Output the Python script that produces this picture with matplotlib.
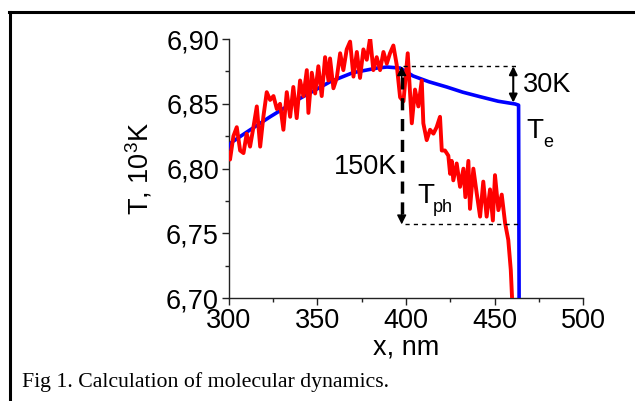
import matplotlib
matplotlib.use("Agg")
import matplotlib.pyplot as plt
from matplotlib.ticker import MultipleLocator, FuncFormatter
from matplotlib.lines import Line2D

plt.rcParams['font.family'] = ['Liberation Sans', 'DejaVu Sans']
plt.rcParams['mathtext.default'] = 'regular'

# Electron temperature T_e (blue)
te_x = [300.0, 301.4, 310.0, 323.4, 340.0, 357.2, 370.0, 383.7, 389.3, 396.7,
        404.0, 413.0, 423.0, 432.0, 441.8, 452.0, 461.5, 463.5, 464.0]
te_y = [6.816, 6.820, 6.828, 6.840, 6.854, 6.867, 6.874, 6.8776, 6.8784, 6.8776,
        6.8715, 6.867, 6.863, 6.859, 6.8555, 6.852, 6.8499, 6.849, 6.60]

# Phonon temperature T_ph (red)
tph_x = [300.0, 300.8, 302.7, 304.6, 306.5, 308.4, 310.2, 312.1, 314.0, 315.9,
         317.8, 319.6, 321.5, 323.4, 325.3, 327.2, 329.0, 330.9, 332.8, 334.7,
         336.5, 338.4, 340.3, 342.2, 344.1, 345.0, 346.9, 348.8, 350.6, 352.5,
         354.4, 356.3, 357.2, 359.1, 361.0, 362.9, 364.7, 366.6, 368.5, 370.4,
         372.3, 374.1, 376.0, 377.9, 379.8, 381.6, 383.5, 385.4, 387.3, 389.2,
         391.0, 392.9, 394.8, 396.7, 398.6, 401.0, 403.3, 405.1, 407.0, 408.9,
         409.8, 411.7, 413.6, 415.5, 417.3, 419.2, 420.2, 422.0, 423.9, 424.9,
         425.8, 426.7, 428.6, 430.5, 432.4, 433.5, 435.2, 436.1, 438.0, 439.9,
         441.8, 443.6, 445.5, 447.4, 449.0, 450.2, 452.1, 454.0, 455.9, 457.7,
         459.1, 460.0, 460.8]
tph_y = [6.812, 6.807, 6.825, 6.832, 6.814, 6.812, 6.827, 6.817, 6.832, 6.848,
         6.817, 6.840, 6.859, 6.853, 6.856, 6.846, 6.850, 6.830, 6.859, 6.840,
         6.863, 6.839, 6.868, 6.856, 6.876, 6.843, 6.874, 6.858, 6.879, 6.856,
         6.886, 6.868, 6.885, 6.862, 6.870, 6.889, 6.876, 6.892, 6.898, 6.871,
         6.890, 6.870, 6.892, 6.884, 6.901, 6.876, 6.886, 6.876, 6.890, 6.881,
         6.889, 6.895, 6.880, 6.855, 6.852, 6.889, 6.835, 6.861, 6.848, 6.868,
         6.835, 6.822, 6.830, 6.827, 6.832, 6.840, 6.814, 6.814, 6.810, 6.796,
         6.806, 6.791, 6.804, 6.786, 6.800, 6.778, 6.806, 6.769, 6.800, 6.781,
         6.763, 6.790, 6.763, 6.784, 6.760, 6.795, 6.768, 6.780, 6.758, 6.745,
         6.722, 6.695, 6.60]

x_ticks = [300, 350, 400, 450, 500]
y_ticks = [6.70, 6.75, 6.80, 6.85, 6.90]

# annotation values
t_top = 6.879
t_bottom = 6.757
x_150 = 397.6
x_30 = 460.5
t_30_low = 6.851

fig = plt.figure(figsize=(6.35, 4.01), dpi=100)
ax = fig.add_axes([0.360, 0.2561, 0.5586, 0.6466])

ax.plot(te_x, te_y, color='#0000ff', lw=2.6, zorder=3)
ax.plot(tph_x, tph_y, color='#ff0000', lw=2.8, zorder=4)

ax.set_xlim(300, 500)
ax.set_ylim(6.70, 6.90)
ax.set_xticks(x_ticks)
ax.set_yticks(y_ticks)
ax.xaxis.set_minor_locator(MultipleLocator(25))
ax.yaxis.set_minor_locator(MultipleLocator(0.025))
ax.yaxis.set_major_formatter(FuncFormatter(lambda v, p: f"{v:.2f}".replace('.', ',')))
for s in ['top', 'right']:
    ax.spines[s].set_visible(False)
for s in ['left', 'bottom']:
    ax.spines[s].set_linewidth(1.0)
    ax.spines[s].set_color('#222222')
ax.tick_params(which='major', direction='out', length=5, width=1, labelsize=19.5, pad=2, color='#222222')
ax.tick_params(which='minor', direction='out', length=3, width=1, color='#222222')

ax.set_xlabel('x, nm', fontsize=19.5, labelpad=0)
ax.set_ylabel('T, 10$^{3}$K', fontsize=19.5, labelpad=8)

# dashed horizontal reference lines
ax.plot([398.5, 463.0], [t_top, t_top], ls=(0, (3, 3)), color='k', lw=1.0, zorder=5)
ax.plot([399.5, 464.0], [t_bottom, t_bottom], ls=(0, (3, 3)), color='k', lw=1.0, zorder=5)

# 150K dashed vertical arrow
ax.plot([x_150, x_150], [t_bottom + 0.008, t_top - 0.008], ls=(0, (3.5, 2.5)), color='k', lw=2.5, zorder=5)
ax.annotate('', xy=(x_150, t_top), xytext=(x_150, t_top - 0.009),
            arrowprops=dict(arrowstyle='-|>', color='k', lw=1, mutation_scale=14, shrinkA=0, shrinkB=0), zorder=6)
ax.annotate('', xy=(x_150, t_bottom), xytext=(x_150, t_bottom + 0.009),
            arrowprops=dict(arrowstyle='-|>', color='k', lw=1, mutation_scale=14, shrinkA=0, shrinkB=0), zorder=6)

# 30K arrow
ax.annotate('', xy=(x_30, t_top), xytext=(x_30, t_30_low),
            arrowprops=dict(arrowstyle='<|-|>', color='k', lw=1.5, mutation_scale=12, shrinkA=0, shrinkB=0), zorder=6)

ax.text(466.0, 6.8645, '30K', fontsize=19.5, ha='left', va='center')
ax.text(395.0, 6.801, '150K', fontsize=19.5, ha='right', va='center')
ax.text(468.0, 6.839, 'T', fontsize=20, ha='left', va='top')
ax.text(477.5, 6.8135, 'e', fontsize=13, ha='left', va='bottom')
ax.text(406.3, 6.789, 'T', fontsize=20, ha='left', va='top')
ax.text(415.3, 6.7666, 'ph', fontsize=13, ha='left', va='baseline')

# figure frame (left and top edges)
fig.add_artist(Line2D([0.0157, 0.0157], [0.0, 0.970], transform=fig.transFigure, color='k', lw=2.2))
fig.add_artist(Line2D([0.0140, 1.0], [0.970, 0.970], transform=fig.transFigure, color='k', lw=2.2))

fig.text(0.0346, 0.0357, 'Fig 1. Calculation of molecular dynamics.', fontsize=15.7,
         family=['Liberation Serif', 'DejaVu Serif'], ha='left', va='baseline')

fig.savefig('out.png', dpi=100)
